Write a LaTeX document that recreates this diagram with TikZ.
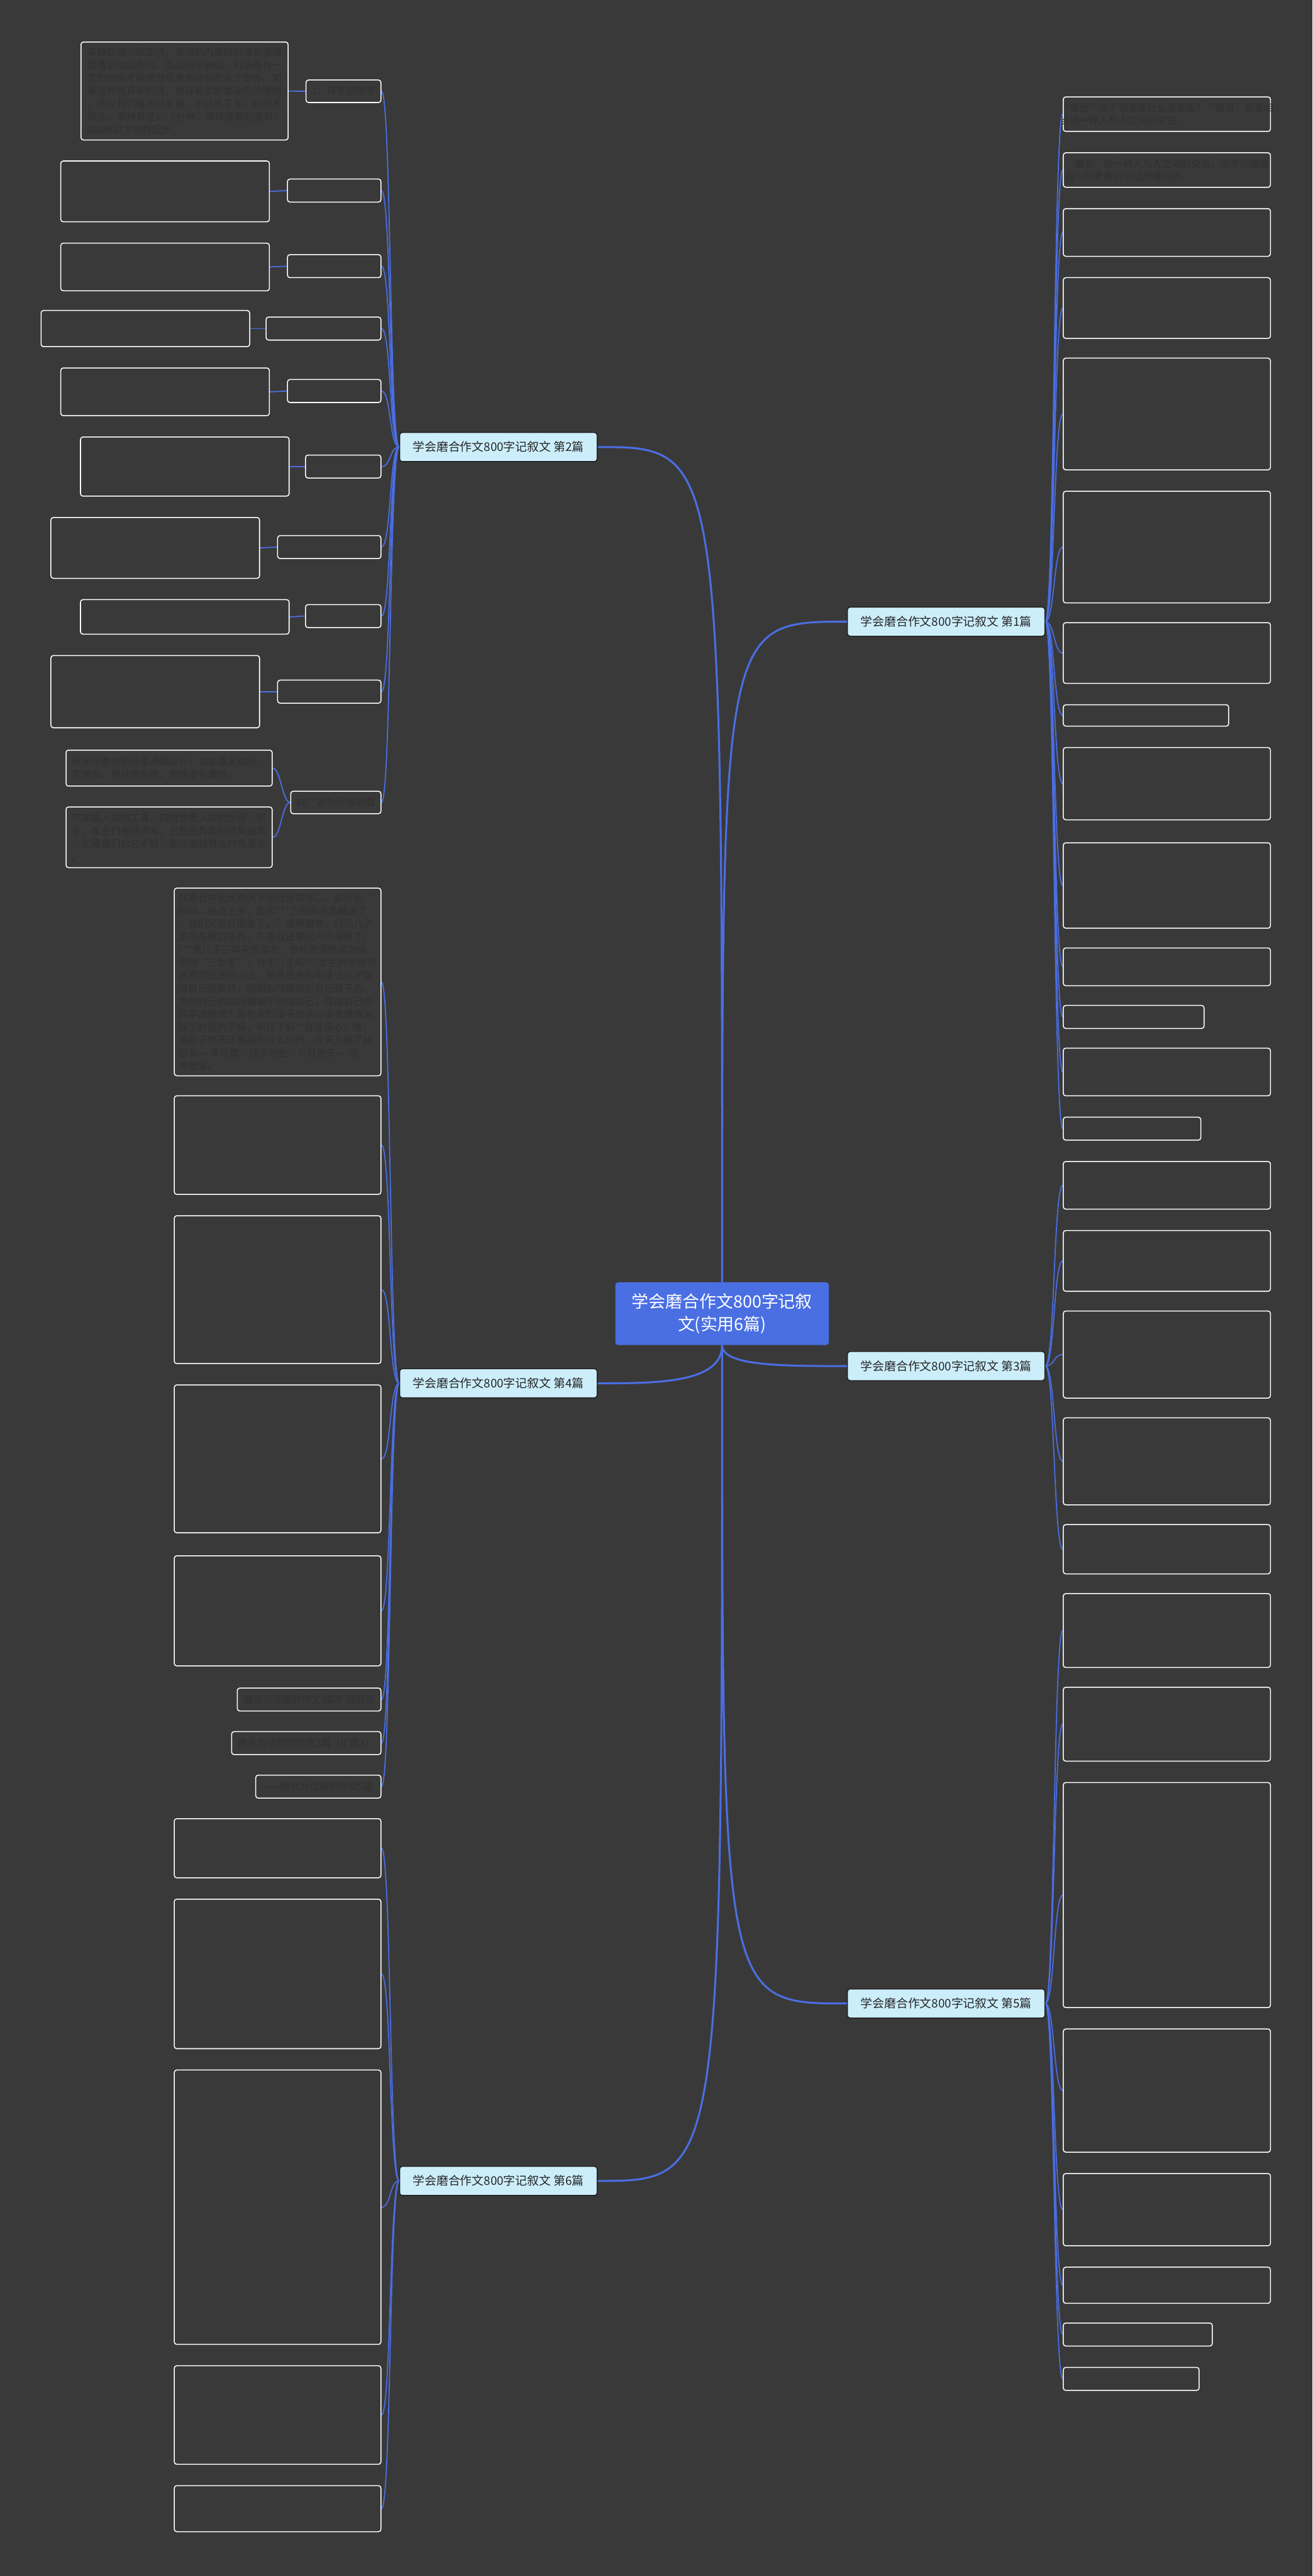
\documentclass[tikz,border=0pt]{standalone}
\usepackage{fontspec}
\setmainfont{Noto Sans CJK SC}
\usetikzlibrary{calc, positioning, fit, backgrounds}

\definecolor{canvas}{HTML}{3A393A}
\definecolor{linkblue}{HTML}{4A6FE3}
\definecolor{tagfill}{HTML}{CCEEFB}
\definecolor{faint}{HTML}{303030}

\begin{document}
\begin{tikzpicture}[x=2.4pt, y=-2.4pt]
		\tikzstyle{root} = [fill=linkblue, rounded corners=4pt, text=white, align=center,
			font=\fontsize{24.7}{33.7}\selectfont, minimum width=312pt, minimum height=91.5pt, inner sep=0pt]
		\tikzstyle{pian} = [fill=tagfill, draw=black!88, line width=1.3pt, rounded corners=4pt,
			text=black!85, font=\fontsize{17.3}{20}\selectfont, minimum width=288.5pt, minimum height=42.5pt, inner sep=0pt]
		\tikzstyle{leaf} = [draw=white, fill=canvas, line width=1.4pt, rounded corners=3.6pt, inner sep=0pt]
		\tikzstyle{ink} = [text=faint, align=left, inner sep=0pt, font=\fontsize{14.2}{18.9}\selectfont]
		\tikzstyle{trunk} = [draw=linkblue, line width=2.8pt]
		\tikzstyle{twig} = [draw=linkblue, line width=1.6pt]

		% center and the six articles
		\node[root] (main) at (439.6,799.6) {学会磨合作文800字记叙\\文(实用6篇)};
		\node[pian] (p1) at (576.0,378.4) {学会磨合作文800字记叙文 第1篇};
		\node[pian] (p2) at (303.4,272.1) {学会磨合作文800字记叙文 第2篇};
		\node[pian] (p3) at (576.0,831.5) {学会磨合作文800字记叙文 第3篇};
		\node[pian] (p4) at (303.4,842.0) {学会磨合作文800字记叙文 第4篇};
		\node[pian] (p5) at (576.0,1219.5) {学会磨合作文800字记叙文 第5篇};
		\node[pian] (p6) at (303.4,1327.5) {学会磨合作文800字记叙文 第6篇};

		% article 1
		\node[leaf, fit={(647.3,59) (773.4,80)}] (p1l1) {};
		\node[ink] at (p1l1) {“磨合”这个词语是什么意思呢？“磨合”就是相\\当地一种人与人之间的交往。};
		\node[leaf, fit={(647.3,93) (773.4,114)}] (p1l2) {};
		\node[ink] at (p1l2) {“磨合”是一种人与人之间的交流。这个词语是\\由一位老者的谈话而得出的。};
		\node[leaf, fit={(647.3,127) (773.4,156)}] (p1l3) {};
		\node[leaf, fit={(647.3,169) (773.4,206)}] (p1l4) {};
		\node[leaf, fit={(647.3,218) (773.4,286)}] (p1l5) {};
		\node[leaf, fit={(647.3,299) (773.4,367)}] (p1l6) {};
		\node[leaf, fit={(647.3,379) (773.4,416)}] (p1l7) {};
		\node[leaf, fit={(647.3,429) (748.0,442)}] (p1l8) {};
		\node[leaf, fit={(647.3,455) (773.4,499)}] (p1l9) {};
		\node[leaf, fit={(647.3,513) (773.4,565)}] (p1l10) {};
		\node[leaf, fit={(647.3,577) (773.4,600)}] (p1l11) {};
		\node[leaf, fit={(647.3,612) (733.0,626)}] (p1l12) {};
		\node[leaf, fit={(647.3,638) (773.4,667)}] (p1l13) {};
		\node[leaf, fit={(647.3,680) (731.0,694)}] (p1l14) {};

		% article 2
		\node[leaf, fit={(186.3,48.7) (231.9,62.4)}] (p2s1) {};
		\node[ink] at (p2s1) {1、开车前热车};
		\node[leaf, fit={(49.3,25.6) (175.4,85.2)}] (p2l1) {};
		\node[ink] at (p2l1) {车辆在熄火状态时，发动机内部的机油会慢慢\\回落到油底壳内，而启动车辆后，机油得有一\\定的时间才能充分润滑发动机的各个部件。如\\果这时就开车的话，很容易加剧发动机的磨损\\，所以我们每次开车前，不妨热下车，时间不\\用多，保持怠速1、2分钟，等转速表回落到1\\000转以下时再起步。};
		\node[leaf, fit={(175,109) (231.9,123)}] (p2s2) {};
		\node[leaf, fit={(37,98) (164,135)}] (p2l2) {};
		\node[leaf, fit={(175,155) (231.9,169)}] (p2s3) {};
		\node[leaf, fit={(37,148) (164,177)}] (p2l3) {};
		\node[leaf, fit={(162,193) (231.9,207)}] (p2s4) {};
		\node[leaf, fit={(25,189) (152,211)}] (p2l4) {};
		\node[leaf, fit={(175,231) (231.9,245)}] (p2s5) {};
		\node[leaf, fit={(37,224) (164,253)}] (p2l5) {};
		\node[leaf, fit={(186,277) (231.9,291)}] (p2s6) {};
		\node[leaf, fit={(49,266) (176,302)}] (p2l6) {};
		\node[leaf, fit={(169,326) (231.9,340)}] (p2s7) {};
		\node[leaf, fit={(31,315) (158,352)}] (p2l7) {};
		\node[leaf, fit={(186,368) (231.9,382)}] (p2s8) {};
		\node[leaf, fit={(49,365) (176,386)}] (p2l8) {};
		\node[leaf, fit={(169,414) (231.9,428)}] (p2s9) {};
		\node[leaf, fit={(31,399) (158,443)}] (p2l9) {};
		\node[leaf, fit={(177,481.6) (231.9,495.3)}] (p2s10) {};
		\node[ink] at (p2s10) {10、避免经常满载};
		\node[leaf, fit={(40.2,456.6) (165.7,478.5)}] (p2l10a) {};
		\node[ink] at (p2l10a) {新车在磨合期经常满载运行，会加重发动机、\\变速现、悬挂的负荷，加速老化磨损。};
		\node[leaf, fit={(40.2,491.2) (165.7,528.1)}] (p2l10b) {};
		\node[ink] at (p2l10b) {汽车是人类的工具，同时也是人类的伙伴、帮\\手，车主们善待汽车，它就会为我们遮风挡雨\\，如果我们对它不好，那么抛锚将会时有发生\\。};

		% article 3
		\node[leaf, fit={(647.3,707) (773.4,736)}] (p3l1) {};
		\node[leaf, fit={(647.3,749) (773.4,786)}] (p3l2) {};
		\node[leaf, fit={(647.3,798) (773.4,851)}] (p3l3) {};
		\node[leaf, fit={(647.3,863) (773.4,916)}] (p3l4) {};
		\node[leaf, fit={(647.3,928) (773.4,958)}] (p3l5) {};

		% article 4
		\node[leaf, fit={(106.1,540.6) (231.9,654.8)}] (p4l1) {};
		\node[ink] at (p4l1) {在磨合中长大昨天下班行至楼梯口，就听到“\\妈妈，快点上来，我和***之间的矛盾解决了\\，我们又是好朋友了。”循声望去，只见儿子\\正爬在窗口等我，不等我进家就大声报喜了。\\***是儿子三年来的挚友，曾和张潇杨成为亲\\密的“三剑客”，对于儿子和***发生的不愉快\\我真的没放在心上，倒是后来的电话让儿子觉\\得自己很冤枉，感到张阿姨能听自己孩子的，\\为何自己的妈妈偏偏不相信自己，强迫自己向\\同学道歉呢？后在我们母子的谈心中也慢慢消\\除了对我的不解，明白了妈**良苦用心。瞧！\\俩孩子昨天还委屈的什么似的，今天又成了好\\朋友----真可谓，孩子的脸，六月的天----说\\变就变。};
		\node[leaf, fit={(106.1,667) (231.9,727)}] (p4l2) {};
		\node[leaf, fit={(106.1,740) (231.9,830)}] (p4l3) {};
		\node[leaf, fit={(106.1,843) (231.9,933)}] (p4l4) {};
		\node[leaf, fit={(106.1,947) (231.9,1014)}] (p4l5) {};
		\node[leaf, fit={(144.5,1027.5) (231.9,1041.5)}] (p4l6) {};
		\node[ink] at (p4l6) {磨合为话题的作文3篇扩展阅读};
		\node[leaf, fit={(141.0,1054) (231.9,1068)}] (p4l7) {};
		\node[ink] at (p4l7) {磨合为话题的作文3篇（扩展1）};
		\node[leaf, fit={(155.7,1080.5) (231.9,1094.5)}] (p4l8) {};
		\node[ink] at (p4l8) {——组合为话题的作文5篇};

		% article 5
		\node[leaf, fit={(647.3,970) (773.4,1015)}] (p5l1) {};
		\node[leaf, fit={(647.3,1027) (773.4,1072)}] (p5l2) {};
		\node[leaf, fit={(647.3,1085) (773.4,1222)}] (p5l3) {};
		\node[leaf, fit={(647.3,1235) (773.4,1310)}] (p5l4) {};
		\node[leaf, fit={(647.3,1323) (773.4,1367)}] (p5l5) {};
		\node[leaf, fit={(647.3,1380) (773.4,1402)}] (p5l6) {};
		\node[leaf, fit={(647.3,1414) (738.0,1428)}] (p5l7) {};
		\node[leaf, fit={(647.3,1441) (730.0,1455)}] (p5l8) {};

		% article 6
		\node[leaf, fit={(106.1,1107) (231.9,1143)}] (p6l1) {};
		\node[leaf, fit={(106.1,1156) (231.9,1247)}] (p6l2) {};
		\node[leaf, fit={(106.1,1260) (231.9,1427)}] (p6l3) {};
		\node[leaf, fit={(106.1,1440) (231.9,1500)}] (p6l4) {};
		\node[leaf, fit={(106.1,1513) (231.9,1541)}] (p6l5) {};

		\begin{scope}[on background layer]
			\fill[canvas] (0,0) rectangle (799,1568);

			\draw[trunk] (main) .. controls (main |- p1.west) .. (p1.west);
			\draw[trunk] (main) .. controls (main |- p2.east) .. (p2.east);
			\draw[trunk] (main) .. controls (main |- p3.west) and ($(p3.west)+(-40,0)$) .. (p3.west);
			\draw[trunk] (main) .. controls (main |- p4.east) and ($(p4.east)+(36,0)$) .. (p4.east);
			\draw[trunk] (main) .. controls (main |- p5.west) .. (p5.west);
			\draw[trunk] (main) .. controls (main |- p6.east) .. (p6.east);

			\draw[twig] (p1.east) .. controls +(5.6,0) and +(-5.6,0) .. (p1l1.west);
			\draw[twig] (p1.east) .. controls +(5.6,0) and +(-5.6,0) .. (p1l2.west);
			\draw[twig] (p1.east) .. controls +(5.6,0) and +(-5.6,0) .. (p1l3.west);
			\draw[twig] (p1.east) .. controls +(5.6,0) and +(-5.6,0) .. (p1l4.west);
			\draw[twig] (p1.east) .. controls +(5.6,0) and +(-5.6,0) .. (p1l5.west);
			\draw[twig] (p1.east) .. controls +(5.6,0) and +(-5.6,0) .. (p1l6.west);
			\draw[twig] (p1.east) .. controls +(5.6,0) and +(-5.6,0) .. (p1l7.west);
			\draw[twig] (p1.east) .. controls +(5.6,0) and +(-5.6,0) .. (p1l8.west);
			\draw[twig] (p1.east) .. controls +(5.6,0) and +(-5.6,0) .. (p1l9.west);
			\draw[twig] (p1.east) .. controls +(5.6,0) and +(-5.6,0) .. (p1l10.west);
			\draw[twig] (p1.east) .. controls +(5.6,0) and +(-5.6,0) .. (p1l11.west);
			\draw[twig] (p1.east) .. controls +(5.6,0) and +(-5.6,0) .. (p1l12.west);
			\draw[twig] (p1.east) .. controls +(5.6,0) and +(-5.6,0) .. (p1l13.west);
			\draw[twig] (p1.east) .. controls +(5.6,0) and +(-5.6,0) .. (p1l14.west);

			\draw[twig] (p2.west) .. controls +(-6,0) and +(6,0) .. (p2s1.east);
			\draw[twig] (p2.west) .. controls +(-6,0) and +(6,0) .. (p2s2.east);
			\draw[twig] (p2.west) .. controls +(-6,0) and +(6,0) .. (p2s3.east);
			\draw[twig] (p2.west) .. controls +(-6,0) and +(6,0) .. (p2s4.east);
			\draw[twig] (p2.west) .. controls +(-6,0) and +(6,0) .. (p2s5.east);
			\draw[twig] (p2.west) .. controls +(-6,0) and +(6,0) .. (p2s6.east);
			\draw[twig] (p2.west) .. controls +(-6,0) and +(6,0) .. (p2s7.east);
			\draw[twig] (p2.west) .. controls +(-6,0) and +(6,0) .. (p2s8.east);
			\draw[twig] (p2.west) .. controls +(-6,0) and +(6,0) .. (p2s9.east);
			\draw[twig] (p2.west) .. controls +(-6,0) and +(6,0) .. (p2s10.east);
			\draw[twig] (p2s1.west) .. controls +(-5,0) and +(5,0) .. (p2l1.east);
			\draw[twig] (p2s2.west) .. controls +(-5,0) and +(5,0) .. (p2l2.east);
			\draw[twig] (p2s3.west) .. controls +(-5,0) and +(5,0) .. (p2l3.east);
			\draw[twig] (p2s4.west) .. controls +(-5,0) and +(5,0) .. (p2l4.east);
			\draw[twig] (p2s5.west) .. controls +(-5,0) and +(5,0) .. (p2l5.east);
			\draw[twig] (p2s6.west) .. controls +(-5,0) and +(5,0) .. (p2l6.east);
			\draw[twig] (p2s7.west) .. controls +(-5,0) and +(5,0) .. (p2l7.east);
			\draw[twig] (p2s8.west) .. controls +(-5,0) and +(5,0) .. (p2l8.east);
			\draw[twig] (p2s9.west) .. controls +(-5,0) and +(5,0) .. (p2l9.east);
			\draw[twig] (p2s10.west) .. controls +(-5,0) and +(5,0) .. (p2l10a.east);
			\draw[twig] (p2s10.west) .. controls +(-5,0) and +(5,0) .. (p2l10b.east);

			\draw[twig] (p3.east) .. controls +(5.6,0) and +(-5.6,0) .. (p3l1.west);
			\draw[twig] (p3.east) .. controls +(5.6,0) and +(-5.6,0) .. (p3l2.west);
			\draw[twig] (p3.east) .. controls +(5.6,0) and +(-5.6,0) .. (p3l3.west);
			\draw[twig] (p3.east) .. controls +(5.6,0) and +(-5.6,0) .. (p3l4.west);
			\draw[twig] (p3.east) .. controls +(5.6,0) and +(-5.6,0) .. (p3l5.west);

			\draw[twig] (p4.west) .. controls +(-6,0) and +(6,0) .. (p4l1.east);
			\draw[twig] (p4.west) .. controls +(-6,0) and +(6,0) .. (p4l2.east);
			\draw[twig] (p4.west) .. controls +(-6,0) and +(6,0) .. (p4l3.east);
			\draw[twig] (p4.west) .. controls +(-6,0) and +(6,0) .. (p4l4.east);
			\draw[twig] (p4.west) .. controls +(-6,0) and +(6,0) .. (p4l5.east);
			\draw[twig] (p4.west) .. controls +(-6,0) and +(6,0) .. (p4l6.east);
			\draw[twig] (p4.west) .. controls +(-6,0) and +(6,0) .. (p4l7.east);
			\draw[twig] (p4.west) .. controls +(-6,0) and +(6,0) .. (p4l8.east);

			\draw[twig] (p5.east) .. controls +(5.6,0) and +(-5.6,0) .. (p5l1.west);
			\draw[twig] (p5.east) .. controls +(5.6,0) and +(-5.6,0) .. (p5l2.west);
			\draw[twig] (p5.east) .. controls +(5.6,0) and +(-5.6,0) .. (p5l3.west);
			\draw[twig] (p5.east) .. controls +(5.6,0) and +(-5.6,0) .. (p5l4.west);
			\draw[twig] (p5.east) .. controls +(5.6,0) and +(-5.6,0) .. (p5l5.west);
			\draw[twig] (p5.east) .. controls +(5.6,0) and +(-5.6,0) .. (p5l6.west);
			\draw[twig] (p5.east) .. controls +(5.6,0) and +(-5.6,0) .. (p5l7.west);
			\draw[twig] (p5.east) .. controls +(5.6,0) and +(-5.6,0) .. (p5l8.west);

			\draw[twig] (p6.west) .. controls +(-6,0) and +(6,0) .. (p6l1.east);
			\draw[twig] (p6.west) .. controls +(-6,0) and +(6,0) .. (p6l2.east);
			\draw[twig] (p6.west) .. controls +(-6,0) and +(6,0) .. (p6l3.east);
			\draw[twig] (p6.west) .. controls +(-6,0) and +(6,0) .. (p6l4.east);
			\draw[twig] (p6.west) .. controls +(-6,0) and +(6,0) .. (p6l5.east);
		\end{scope}
\end{tikzpicture}
\end{document}
